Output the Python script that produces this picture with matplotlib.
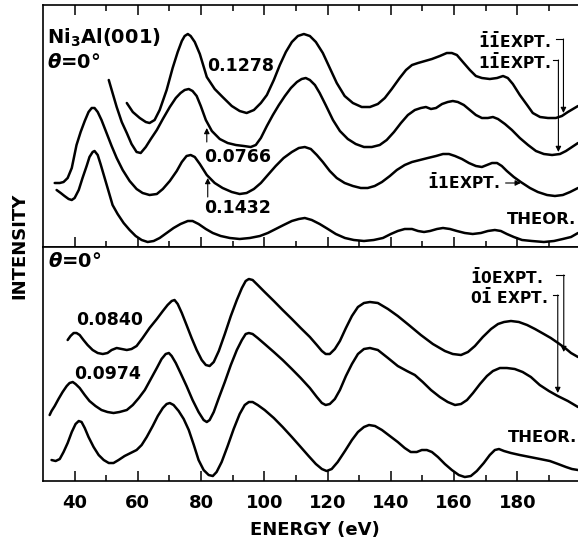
import matplotlib
matplotlib.use('Agg')
import matplotlib.pyplot as plt
import numpy as np

plt.rcParams['font.family'] = 'DejaVu Sans'
plt.rcParams['font.weight'] = 'bold'
plt.rcParams['mathtext.fontset'] = 'custom'
plt.rcParams['mathtext.rm'] = 'DejaVu Sans:bold'
plt.rcParams['mathtext.it'] = 'DejaVu Sans:italic:bold'
plt.rcParams['mathtext.bf'] = 'DejaVu Sans:bold'

# ---- upper panel (11 beams), intensity in arbitrary units ----
# 11-bar-1-bar expt (0.1278)
e_11a = [56.5, 58.4, 60.6, 62.5, 63.7, 65.3, 66.9, 69.1, 71.0, 72.6, 73.9, 74.8, 75.8, 76.7, 78.0,
         79.6, 81.8, 84.3, 86.8, 89.7, 92.2, 94.4, 96.7, 98.9, 100.8, 103.0, 104.9, 106.8, 108.7,
         110.6, 112.5, 114.4, 116.3, 118.5, 120.7, 122.9, 125.4, 128.0, 130.8, 133.4, 135.9, 138.1,
         140.3, 142.8, 144.8, 146.7, 148.6, 150.8, 153.0, 155.5, 157.7, 159.3, 160.9, 162.8, 165.0,
         166.9, 168.8, 171.3, 173.6, 175.5, 177.0, 178.6, 180.8, 183.1, 184.9, 187.2, 189.7, 192.2,
         194.1, 196.0, 197.6, 199.2]
i_11a = [144, 135, 129, 125, 124, 127, 137, 157, 179, 195, 206, 211, 213, 211, 205,
         193, 170, 158, 150, 141, 136, 134, 137, 144, 152, 167, 182, 195, 205,
         211, 213, 211, 205, 194, 179, 164, 151, 144, 140, 140, 143, 149,
         158, 169, 177, 182, 184, 186, 188, 191, 194, 194, 192, 185, 177,
         171, 169, 168, 169, 171, 169, 163, 152, 142, 134, 130, 129, 129,
         131, 135, 138, 141]

# 1 1-bar expt (0.0766)
e_11b = [50.8, 52.0, 53.3, 54.9, 56.5, 58.0, 59.6, 60.9, 62.5, 64.1, 66.0, 67.9, 70.1, 72.0, 73.5,
         74.8, 76.1, 77.3, 78.6, 79.9, 81.5, 83.4, 85.9, 88.4, 91.0, 93.5, 95.7, 97.3, 98.9,
         100.8, 102.7, 104.6, 106.5, 108.4, 110.3, 111.8, 113.1, 114.4, 116.0, 117.5, 119.4, 121.7,
         123.9, 126.4, 128.9, 131.5, 134.0, 136.5, 138.7, 141.0, 143.2, 145.4, 147.6, 149.5, 151.1,
         152.7, 154.3, 156.2, 158.0, 159.6, 161.2, 163.1, 165.0, 166.9, 168.8, 170.7, 172.3, 173.9,
         176.1, 178.3, 180.8, 183.4, 185.9, 188.4, 191.0, 193.5, 195.4, 197.3, 199.2]
i_11b = [167, 154, 140, 125, 114, 103, 95, 94, 100, 108, 117, 128, 140, 149, 154,
         157, 158, 156, 151, 141, 127, 116, 108, 104, 102, 101, 100, 102, 109,
         121, 132, 142, 151, 159, 165, 168, 169, 167, 162, 154, 142, 127,
         116, 108, 103, 100, 100, 102, 107, 115, 124, 132, 137, 139, 140,
         138, 139, 143, 145, 146, 145, 142, 137, 132, 129, 129, 130, 128,
         123, 117, 109, 102, 96, 93, 92, 93, 96, 100, 104]

# bar-1 1 expt (0.1432)
e_11c = [33.7, 35.3, 36.5, 37.8, 39.1, 40.6, 41.9, 43.2, 44.4, 45.4, 46.3, 47.3, 48.5, 50.1, 51.7,
         53.3, 55.2, 57.4, 59.6, 61.5, 63.7, 66.0, 67.9, 70.1, 72.3, 73.9, 75.4, 76.7, 78.0,
         79.6, 81.8, 84.3, 86.8, 89.7, 92.2, 94.4, 96.7, 98.9, 101.1, 103.6, 106.1, 108.7, 110.9,
         112.8, 114.7, 116.6, 118.5, 120.7, 122.9, 125.4, 128.0, 130.5, 132.7, 134.9, 137.2, 139.7,
         141.9, 144.4, 146.7, 149.2, 151.7, 154.3, 156.5, 158.4, 160.3, 162.5, 164.7, 166.9, 168.8,
         170.4, 172.0, 173.6, 175.1, 176.7, 178.9, 181.1, 184.0, 186.5, 189.4, 191.9, 194.4, 196.7,
         199.2]
i_11c = [64, 64, 65, 69, 79, 102, 115, 126, 135, 139, 139, 135, 127, 114, 101,
         89, 77, 66, 58, 54, 52, 53, 58, 66, 76, 85, 91, 92, 90,
         83, 72, 64, 59, 55, 53, 54, 58, 64, 72, 81, 89, 95, 99,
         100, 98, 92, 85, 76, 69, 64, 61, 59, 59, 61, 65, 71,
         77, 82, 85, 87, 89, 91, 93, 93, 91, 88, 84, 81, 80,
         82, 84, 84, 81, 76, 70, 65, 59, 55, 52, 51, 52, 55,
         59]

# theory, upper panel
e_11t = [34.3, 35.6, 36.8, 38.1, 39.1, 40.0, 41.3, 42.5, 43.8, 44.7, 45.7, 46.3, 47.3, 48.2, 49.5,
         50.8, 52.0, 53.6, 55.5, 57.4, 59.3, 61.2, 63.1, 65.0, 66.9, 69.1, 71.3, 73.5, 75.8,
         77.3, 79.2, 81.5, 83.7, 86.2, 89.1, 92.2, 95.4, 98.6, 101.1, 103.6, 106.1, 108.7, 110.9,
         112.8, 115.0, 117.5, 120.1, 122.6, 125.5, 128.3, 131.5, 134.6, 137.5, 140.0, 142.2, 144.4,
         146.7, 148.6, 150.5, 152.4, 154.6, 156.5, 158.7, 160.9, 163.4, 165.9, 168.5, 170.7, 172.9,
         174.8, 176.7, 178.9, 181.5, 184.6, 188.4, 191.6, 194.4, 197.0, 199.2]
i_11t = [57, 54, 51, 48, 47, 49, 57, 69, 81, 90, 95, 96, 92, 83, 69,
         55, 42, 33, 24, 17, 11, 7, 5, 6, 9, 14, 19, 23, 26,
         26, 23, 18, 14, 11, 9, 8, 9, 11, 14, 18, 22, 26, 28,
         29, 27, 23, 18, 13, 9, 7, 6, 7, 9, 13, 16, 18,
         18, 16, 15, 16, 18, 19, 18, 16, 14, 13, 14, 16, 17,
         16, 13, 10, 7, 6, 5, 6, 8, 10, 14]

# ---- lower panel (10 beams) ----
# bar-1 0 expt (0.0840)
e_10a = [37.8, 38.7, 39.7, 40.6, 41.6, 42.8, 44.1, 45.7, 47.3, 48.9, 50.4, 51.7, 53.3, 54.9, 56.5,
         58.0, 59.6, 61.5, 63.7, 66.0, 67.9, 69.4, 70.7, 71.6, 72.6, 73.9, 75.4, 77.0, 78.6,
         80.2, 81.5, 82.7, 84.0, 85.6, 87.5, 89.4, 91.3, 92.9, 94.1, 95.1, 96.3, 97.9, 100.1,
         103.0, 105.8, 108.7, 111.5, 114.4, 116.6, 118.2, 119.4, 120.7, 122.3, 123.9, 125.8, 127.7,
         129.6, 131.5, 133.4, 135.9, 139.1, 142.2, 145.7, 149.5, 153.3, 157.1, 159.6, 162.2, 164.4,
         166.6, 169.1, 171.7, 173.9, 175.8, 178.0, 180.5, 183.1, 185.6, 188.4, 190.6, 192.9, 195.1,
         197.0, 199.2]
i_10a = [141, 145, 148, 148, 146, 141, 136, 131, 128, 127, 128, 131, 133, 132, 131,
         132, 135, 143, 153, 162, 170, 176, 180, 181, 177, 168, 156, 143, 131,
         121, 116, 115, 119, 130, 147, 165, 181, 193, 200, 202, 201, 196, 189,
         180, 171, 162, 153, 144, 136, 130, 127, 127, 132, 140, 153, 165,
         174, 178, 179, 178, 172, 165, 156, 146, 137, 130, 127, 126, 129,
         135, 144, 152, 157, 159, 160, 159, 156, 152, 147, 143, 138, 133,
         128, 124]

# 0 1-bar expt (0.0974)
e_10b = [32.1, 32.7, 33.7, 34.9, 36.2, 37.5, 38.4, 39.4, 40.3, 41.6, 43.2, 44.7, 46.6, 48.5, 50.4,
         52.3, 54.2, 56.5, 58.4, 60.3, 62.2, 64.1, 66.0, 67.5, 68.8, 69.8, 70.7, 72.0, 73.5,
         75.4, 77.3, 79.2, 80.8, 81.8, 82.7, 84.0, 85.6, 87.5, 89.4, 91.3, 92.9, 94.1, 95.1,
         96.3, 97.9, 100.1, 103.0, 105.8, 108.7, 111.5, 114.4, 116.6, 118.2, 119.4, 120.7, 122.3,
         123.9, 125.8, 127.7, 129.6, 131.5, 133.4, 135.9, 139.1, 142.2, 145.1, 147.6, 150.1, 152.7,
         155.5, 158.0, 160.3, 162.2, 164.1, 166.0, 168.2, 170.4, 172.3, 174.5, 176.7, 179.2, 181.7,
         184.3, 187.1, 190.0, 192.8, 196.0, 199.2]
i_10b = [66, 70, 75, 82, 89, 95, 98, 99, 97, 93, 86, 80, 75, 71, 69,
         68, 69, 71, 76, 83, 91, 102, 113, 122, 127, 128, 125, 118, 108,
         95, 81, 69, 61, 59, 61, 69, 83, 99, 116, 131, 141, 147, 148,
         147, 143, 137, 129, 121, 112, 103, 93, 84, 78, 76, 77, 82,
         91, 105, 117, 127, 132, 133, 131, 123, 115, 110, 106, 99, 91,
         84, 79, 76, 77, 81, 88, 97, 105, 110, 113, 113, 112, 109,
         104, 96, 90, 85, 80, 74]

# theory, lower panel
e_10t = [32.7, 34.0, 35.3, 36.5, 37.8, 39.1, 40.3, 41.3, 42.2, 43.2, 44.4, 46.0, 47.6, 49.2, 50.8,
         52.3, 53.9, 55.8, 57.7, 59.6, 61.2, 62.8, 64.7, 66.3, 67.9, 69.1, 70.1, 71.3, 72.9,
         74.5, 76.1, 77.7, 79.2, 80.8, 82.4, 83.7, 84.9, 86.5, 88.4, 90.3, 92.2, 93.8, 95.1,
         96.3, 97.9, 100.1, 103.0, 105.8, 108.7, 111.5, 114.0, 116.3, 118.2, 119.7, 121.3, 123.2,
         125.5, 127.7, 129.6, 131.5, 133.1, 135.0, 137.2, 139.7, 142.2, 144.4, 146.3, 148.2, 149.8,
         151.4, 153.0, 154.9, 157.1, 159.3, 161.5, 163.4, 165.3, 167.2, 169.4, 171.3, 172.9, 174.2,
         175.8, 178.0, 180.8, 184.0, 187.2, 190.3, 192.9, 195.4, 197.3, 199.2]
i_10t = [21, 20, 22, 29, 38, 49, 57, 60, 59, 53, 44, 34, 26, 21, 18,
         18, 21, 25, 28, 31, 36, 44, 55, 65, 73, 77, 78, 76, 70,
         62, 51, 36, 21, 11, 6, 5, 9, 19, 35, 52, 67, 76, 79,
         79, 76, 71, 63, 54, 44, 34, 25, 17, 12, 10, 12, 19,
         30, 41, 49, 54, 56, 55, 51, 45, 39, 33, 29, 29, 31,
         31, 29, 24, 17, 11, 6, 4, 5, 10, 18, 26, 31, 32,
         30, 28, 26, 24, 22, 20, 17, 14, 12, 11]

major_ticks = np.arange(40, 200, 20)
minor_ticks = np.arange(50, 200, 20)

fig = plt.figure(figsize=(5.78, 5.45), dpi=100)
ax1 = fig.add_axes([0.0744, 0.5468, 0.9256, 0.444])
ax2 = fig.add_axes([0.0744, 0.1174, 0.9256, 0.4294])

lw = 1.8
for e, i in [(e_11a, i_11a), (e_11b, i_11b), (e_11c, i_11c), (e_11t, i_11t)]:
    ax1.plot(e, i, color='black', lw=lw, solid_joinstyle='round', solid_capstyle='round')
for e, i in [(e_10a, i_10a), (e_10b, i_10b), (e_10t, i_10t)]:
    ax2.plot(e, i, color='black', lw=lw, solid_joinstyle='round', solid_capstyle='round')

ax1.set_ylim(0, 242)
ax2.set_ylim(0, 234)
for ax in (ax1, ax2):
    ax.set_xlim(30, 199.2)
    ax.set_yticks([])
    ax.spines['right'].set_visible(False)
    for s in ax.spines.values():
        s.set_linewidth(1.2)
    ax.set_xticks(major_ticks)
    ax.set_xticks(minor_ticks, minor=True)
    ax.tick_params(axis='x', which='major', direction='in', length=7, width=1.1)
    ax.tick_params(axis='x', which='minor', direction='in', length=4, width=1.1)

ax1.tick_params(axis='x', which='both', top=True, bottom=True, labelbottom=False)
ax2.tick_params(axis='x', which='both', top=False, bottom=True, labelsize=13, pad=9)

fs = 12.5
lab = 11.2
# upper panel text
ax1.text(31.3, 209, 'Ni$_3$Al(001)', fontsize=14, va='center', ha='left')
ax1.text(31.3, 185, r'$\theta$=0°', fontsize=14, va='center', ha='left')
ax1.text(92.5, 181, '0.1278', fontsize=fs, va='center', ha='center')
ax1.text(91.6, 90, '0.0766', fontsize=fs, va='center', ha='center')
ax1.text(91.6, 39, '0.1432', fontsize=fs, va='center', ha='center')
ax1.text(167.5, 206, r'$\bar{1}\bar{1}$EXPT.', fontsize=lab, va='center', ha='left')
ax1.text(167.5, 185, r'$1\bar{1}$EXPT.', fontsize=lab, va='center', ha='left')
ax1.text(151.5, 65, r'$\bar{1}1$EXPT.', fontsize=lab, va='center', ha='left')
ax1.text(198.6, 27, 'THEOR.', fontsize=11.8, va='center', ha='right')

arw = dict(arrowstyle='-|>', color='black', lw=0.8, mutation_scale=8, shrinkA=0, shrinkB=0)
ax1.annotate('', xy=(81.8, 119), xytext=(81.8, 105), arrowprops=arw)
ax1.annotate('', xy=(82.1, 69), xytext=(82.1, 50), arrowprops=arw)
ax1.annotate('', xy=(181.1, 64), xytext=(176.3, 64), arrowprops=arw)
ax1.plot([192.4, 194.6], [208, 208], color='black', lw=0.8)
ax1.annotate('', xy=(194.6, 134), xytext=(194.6, 208), arrowprops=arw)
ax1.plot([191.4, 193.0], [187, 187], color='black', lw=0.8)
ax1.annotate('', xy=(193.0, 95), xytext=(193.0, 187), arrowprops=arw)

# lower panel text
ax2.text(31.5, 219, r'$\theta$=0°', fontsize=14, va='center', ha='left')
ax2.text(51.1, 161, '0.0840', fontsize=fs, va='center', ha='center')
ax2.text(50.4, 107, '0.0974', fontsize=fs, va='center', ha='center')
ax2.text(165.0, 204, r'$\bar{1}$0EXPT.', fontsize=lab, va='center', ha='left')
ax2.text(165.0, 184, r'0$\bar{1}$ EXPT.', fontsize=lab, va='center', ha='left')
ax2.text(198.9, 44, 'THEOR.', fontsize=11.8, va='center', ha='right')
ax2.plot([192.2, 194.7], [206, 206], color='black', lw=0.8)
ax2.annotate('', xy=(194.7, 129), xytext=(194.7, 206), arrowprops=arw)
ax2.plot([191.3, 192.8], [186, 186], color='black', lw=0.8)
ax2.annotate('', xy=(192.8, 88), xytext=(192.8, 186), arrowprops=arw)

fig.text(0.033, 0.549, 'INTENSITY', rotation=90, fontsize=13, va='center', ha='center')
fig.text(0.545, 0.0275, 'ENERGY (eV)', fontsize=13, va='center', ha='center')

fig.savefig('out.png', dpi=100)
